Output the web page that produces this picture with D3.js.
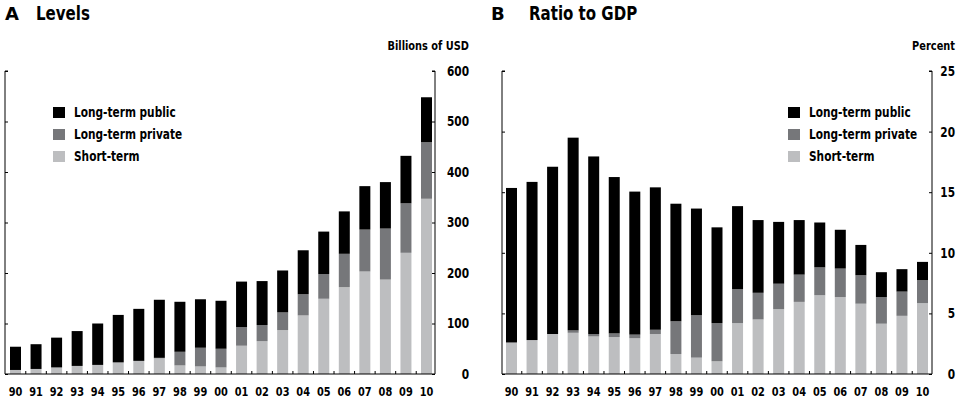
<!DOCTYPE html>
<html>
<head>
<meta charset="utf-8">
<script src="https://cdn.jsdelivr.net/npm/d3@7"></script>
<style>
  body { margin: 0; background: #fff; }
  svg text { font-family: "Liberation Sans Narrow", "DejaVu Sans Condensed", "Arial Narrow", sans-serif; fill: #000; font-weight: bold; }
</style>
</head>
<body>
<svg id="chart" width="969" height="402"></svg>
<script>
// Data
const years = ["90","91","92","93","94","95","96","97","98","99","00","01","02","03","04","05","06","07","08","09","10"];
const seriesNames = ["Short-term", "Long-term private", "Long-term public"];

// Panel A: billions of USD
const levelsShort   = [8,10,13,16,18,23,26,31,17,15,13,56,65,87,116,149,172,203,187,240,347];
const levelsPrivate = [0,0,0,0,0,0,0,1,27,37,37,37,32,35,42,49,66,83,101,98,112];
const levelsPublic  = [46,49,59,69,82,94,103,115,99,96,95,90,87,83,87,84,84,86,92,94,89];
const levelsTicks   = [0,100,200,300,400,500,600];

// Panel B: percent of GDP
const ratioShort   = [2.6,2.8,3.3,3.4,3.1,3.05,2.95,3.3,1.65,1.35,1.05,4.2,4.5,5.35,5.95,6.5,6.35,5.8,4.15,4.8,5.85];
const ratioPrivate = [0,0,0,0.2,0.2,0.3,0.3,0.35,2.7,3.5,3.15,2.8,2.2,2.1,2.25,2.3,2.35,2.35,2.2,2.0,1.9];
const ratioPublic  = [12.75,13.05,13.8,15.9,14.65,12.9,11.8,11.75,9.7,8.8,7.9,6.85,6.0,5.1,4.5,3.7,3.2,2.5,2.05,1.85,1.5];
const ratioTicks   = [0,5,10,15,20,25];

const colors = { "Short-term": "#bdbec0", "Long-term private": "#76777a", "Long-term public": "#000000" };
const legendOrder = ["Long-term public", "Long-term private", "Short-term"];

const NARROW = 0.84; // squeeze the fallback font towards the condensed original

const svg = d3.select('#chart');

// text placed at (x,y) and squeezed horizontally
function narrowText(parent, x, y, str, size, anchor, squeeze) {
    return parent.append('text')
        .attr('transform', `translate(${x},${y}) scale(${squeeze || NARROW},1)`)
        .attr('text-anchor', anchor || 'start')
        .style('font-size', size + 'px')
        .text(str);
}

function drawPanel(opts) {
    const g = svg.append('g');
    const top = 71, bottom = 374;

    const rows = years.map((yr, i) => ({
        year: yr,
        "Short-term": opts.short[i],
        "Long-term private": opts.priv[i],
        "Long-term public": opts.pub[i]
    }));
    const stacked = d3.stack().keys(seriesNames)(rows);

    const x = d3.scaleBand().domain(years).range([opts.barLeft, opts.barRight]).paddingInner(0.465).paddingOuter(0);
    const y = d3.scaleLinear().domain([0, opts.max]).range([bottom, top]);

    // bars
    g.selectAll('g.series')
        .data(stacked)
        .join('g')
        .attr('fill', d => colors[d.key])
        .selectAll('rect')
        .data(d => d)
        .join('rect')
        .attr('x', d => x(d.data.year))
        .attr('width', x.bandwidth())
        .attr('y', d => y(d[1]))
        .attr('height', d => Math.max(0, y(d[0]) - y(d[1])));

    // left axis (ticks inward, no labels)
    g.append('g')
        .attr('transform', `translate(${opts.axisLeft},0)`)
        .call(d3.axisRight(y).tickValues(opts.ticks).tickSize(3).tickFormat(''))
        .call(a => a.select('.domain').attr('d', `M3,${top}H0V${bottom}`));

    // right axis (ticks inward, labels right-aligned outside)
    const ra = g.append('g')
        .attr('transform', `translate(${opts.axisRight},0)`)
        .call(d3.axisLeft(y).tickValues(opts.ticks).tickSize(3).tickFormat(d3.format('d')))
        .call(a => a.select('.domain').attr('d', `M-3,${top}H0V${bottom}`));
    ra.selectAll('text')
        .attr('x', (opts.labelRight - opts.axisRight) / NARROW)
        .attr('transform', `scale(${NARROW},1)`)
        .attr('text-anchor', 'end')
        .attr('fill', '#000')
        .style('font-family', null)
        .style('font-size', '14px');
    ra.attr('font-family', null);
    ra.selectAll('line').attr('stroke', '#000');
    ra.select('.domain').attr('stroke', '#000');

    // bottom axis line with small separators between bars
    g.append('line')
        .attr('x1', opts.axisLeft).attr('x2', opts.axisRight)
        .attr('y1', bottom).attr('y2', bottom)
        .attr('stroke', '#000');
    const gap = x.step() - x.bandwidth();
    g.selectAll('line.sep')
        .data(years.slice(1))
        .join('line')
        .attr('class', 'sep')
        .attr('x1', d => x(d) - gap / 2)
        .attr('x2', d => x(d) - gap / 2)
        .attr('y1', bottom).attr('y2', bottom - 3)
        .attr('stroke', '#000');

    // category labels
    years.forEach(yr => {
        narrowText(g, x(yr) + x.bandwidth() / 2, 396, yr, 13, 'middle');
    });

    // title
    g.append('text')
        .attr('x', opts.titleX).attr('y', 20)
        .style('font-family', '"DejaVu Sans", sans-serif')
        .style('font-size', '18px')
        .text(opts.letter);
    narrowText(g, opts.titleX + opts.titleGap, 20, opts.title, 19, 'start', 0.88);

    // unit label
    narrowText(g, opts.labelRight, 50, opts.unit, 13, 'end');

    // legend
    const lg = g.append('g').attr('transform', `translate(${opts.legendX},107)`);
    legendOrder.forEach((name, i) => {
        lg.append('rect')
            .attr('x', 0).attr('y', i * 22)
            .attr('width', 12).attr('height', 11)
            .attr('fill', colors[name]);
        narrowText(lg, 21, i * 22 + 10, name, 14, 'start');
    });
}

drawPanel({
    letter: 'A', title: 'Levels', unit: 'Billions of USD', titleX: 5, titleGap: 31,
    short: levelsShort, priv: levelsPrivate, pub: levelsPublic,
    max: 600, ticks: levelsTicks,
    axisLeft: 5, axisRight: 435, barLeft: 10, barRight: 432, labelRight: 469,
    legendX: 53
});

drawPanel({
    letter: 'B', title: 'Ratio to GDP', unit: 'Percent', titleX: 491, titleGap: 38,
    short: ratioShort, priv: ratioPrivate, pub: ratioPublic,
    max: 25, ticks: ratioTicks,
    axisLeft: 502, axisRight: 932, barLeft: 506, barRight: 928, labelRight: 955,
    legendX: 788
});
</script>
</body>
</html>
